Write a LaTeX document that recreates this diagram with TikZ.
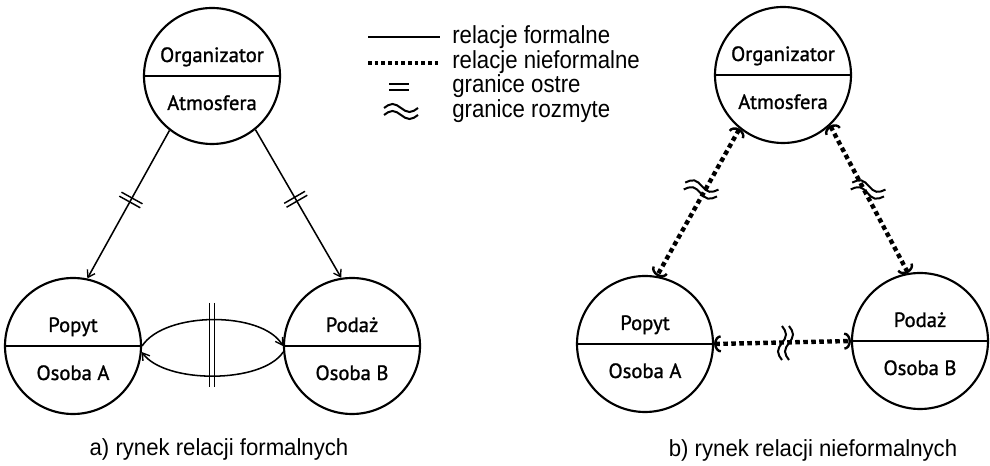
\documentclass[tikz,border=0pt]{standalone}
\usepackage{fontspec}
\setmainfont{Liberation Sans}
\newfontfamily\circfont[FakeBold=1.2]{PT Sans}
\usetikzlibrary{arrows.meta,decorations.markings}
\newcommand{\legtext}[1]{\scalebox{0.9}[1]{#1}}
\newcommand{\captext}[1]{\scalebox{0.95}[1]{#1}}
\tikzset{
  ent/.style={circle,draw,line width=1.6pt,minimum size=102pt,inner sep=0pt},
  ctext/.style={font=\circfont\fontsize{15.5}{18}\selectfont,inner sep=0pt,anchor=base},
  lbl/.style={font=\fontsize{18.5}{22}\selectfont,inner sep=0pt},
  caplbl/.style={font=\fontsize{17.5}{21}\selectfont,inner sep=0pt},
  divline/.style={line width=1.6pt},
  formal/.style={line width=1.15pt,-{Straight Barb[length=5pt,width=6.5pt,line width=1pt]}},
  sharpmark/.style={postaction={decorate},decoration={markings,mark=at position #1 with {\draw[line width=1.1pt,-] (-1.7pt,-9pt)--(-1.7pt,9pt) (1.7pt,-9pt)--(1.7pt,9pt);}}},
  informal/.style={line width=3.3pt,dash pattern=on 3.4pt off 2.6pt,
    {Arc Barb[length=5pt,width=13pt,line width=1.8pt]}-{Arc Barb[length=5pt,width=13pt,line width=1.8pt]}},
  fuzzy/.pic={\draw[line width=1.5pt,solid] (-17,-4) sin (-8.5,-8) cos (0,-4) sin (8.5,0) cos (17,-4);
              \draw[line width=1.5pt,solid] (-17,3) sin (-8.5,-1) cos (0,3) sin (8.5,7) cos (17,3);}
}
\begin{document}
\begin{tikzpicture}[x=0.75pt,y=-0.75pt]
\useasboundingbox (0,0) rectangle (990,466);

% ---------- left diagram ----------
\node[ent] (O1) at (212,76) {};
\node[ent] (P1) at (73,346) {};
\node[ent] (D1) at (352,346) {};
\draw[divline] (O1.west) -- (O1.east);
\draw[divline] (P1.west) -- (P1.east);
\draw[divline] (D1.west) -- (D1.east);
\node[ctext] (O1t) at (212,62) {Organizator};
\node[ctext] (O1b) at (212,110) {Atmosfera};
\node[ctext] (P1t) at (73,332) {Popyt};
\node[ctext] (P1b) at (73,380) {Osoba A};
\node[ctext] (D1t) at (352,332) {Podaż};
\node[ctext] (D1b) at (352,380) {Osoba B};

\draw[formal,sharpmark=0.47] (O1.232) -- (P1.78);
\draw[formal,sharpmark=0.47] (O1.309) -- (D1.99);
\draw[formal] (P1.east) .. controls (165,311) and (262,311) .. (D1.west);
\draw[formal] (D1.185) .. controls (262,384) and (165,384) .. (P1.-5);
\coordinate (barT) at (212,303);
\coordinate (barB) at (212,387);
\draw[line width=1.1pt] ([xshift=-1.7pt]barT) -- ([xshift=-1.7pt]barB);
\draw[line width=1.1pt] ([xshift=1.7pt]barT) -- ([xshift=1.7pt]barB);

\node[caplbl,anchor=base] (capA) at (219,456) {\captext{a) rynek relacji formalnych}};

% ---------- legend ----------
\coordinate (L1a) at (368,37); \coordinate (L1b) at (440,37);
\draw[line width=1.5pt] (L1a) -- (L1b);
\coordinate (L2a) at (368,63); \coordinate (L2b) at (440,63);
\draw[line width=2.6pt,dash pattern=on 2.8pt off 2.2pt] (L2a) -- (L2b);
\coordinate (L3) at (399,87);
\draw[line width=1.4pt] ([xshift=-7.5pt,yshift=2pt]L3) -- ([xshift=7.5pt,yshift=2pt]L3);
\draw[line width=1.4pt] ([xshift=-7.5pt,yshift=-2pt]L3) -- ([xshift=7.5pt,yshift=-2pt]L3);
\pic at (401,112) {fuzzy};
\node[lbl,anchor=base west] (t1) at (452,44) {\legtext{relacje formalne}};
\node[lbl,anchor=base west] (t2) at (452,68.5) {\legtext{relacje nieformalne}};
\node[lbl,anchor=base west] (t3) at (452,93) {\legtext{granice ostre}};
\node[lbl,anchor=base west] (t4) at (452,117.5) {\legtext{granice rozmyte}};

% ---------- right diagram ----------
\node[ent] (O2) at (783,75) {};
\node[ent] (P2) at (645,344) {};
\node[ent] (D2) at (920,341) {};
\draw[divline] (O2.west) -- (O2.east);
\draw[divline] (P2.west) -- (P2.east);
\draw[divline] (D2.west) -- (D2.east);
\node[ctext] (O2t) at (783,61) {Organizator};
\node[ctext] (O2b) at (783,109) {Atmosfera};
\node[ctext] (P2t) at (645,330) {Popyt};
\node[ctext] (P2b) at (645,378) {Osoba A};
\node[ctext] (D2t) at (920,327) {Podaż};
\node[ctext] (D2b) at (920,375) {Osoba B};

\draw[informal] (O2.231) -- (P2.80);
\draw[informal] (O2.313) -- (D2.100);
\draw[informal] (P2.east) -- (D2.west);
\pic[rotate=-12] at (701,190) {fuzzy};
\pic[rotate=-12] at (868,190) {fuzzy};
\pic[rotate=90] at (786,343) {fuzzy};

\node[caplbl,anchor=base] (capB) at (813,457) {\captext{b) rynek relacji nieformalnych}};
\end{tikzpicture}
\end{document}
